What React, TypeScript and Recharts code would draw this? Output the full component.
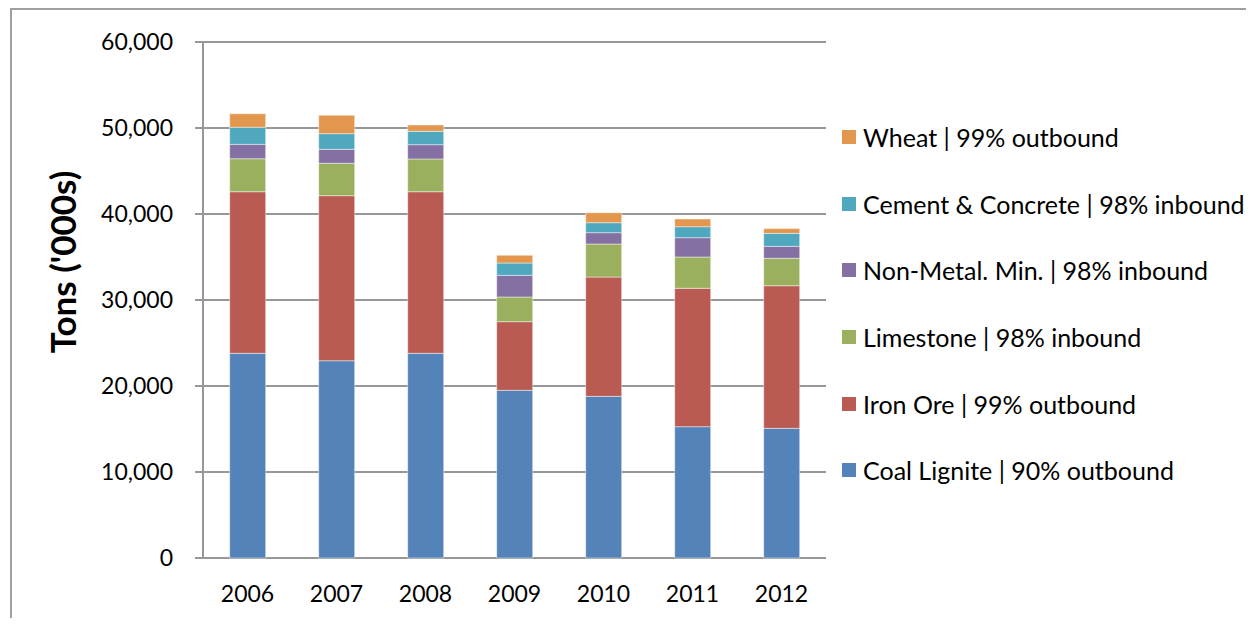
import React from 'react';
import {
  BarChart,
  Bar,
  XAxis,
  YAxis,
  CartesianGrid,
  Legend,
} from 'recharts';

const years = ['2006', '2007', '2008', '2009', '2010', '2011', '2012'];
const coalLignite = [23800, 22940, 23800, 19500, 18800, 15270, 15080];
const ironOre = [18790, 19190, 18790, 7980, 13870, 16090, 16580];
const limestone = [3840, 3770, 3810, 2870, 3840, 3640, 3190];
const nonMetalMin = [1670, 1620, 1660, 2520, 1320, 2245, 1390];
const cementConcrete = [1980, 1820, 1555, 1430, 1160, 1275, 1510];
const wheat = [1580, 2130, 735, 900, 1160, 900, 550];
const yTicks = [0, 10000, 20000, 30000, 40000, 50000, 60000];
const edgeTicks = [0, 1, 2, 3, 4, 5, 6, 7];

const series = [
  { key: 'coal', name: 'Coal Lignite | 90% outbound', color: '#5383b8', values: coalLignite },
  { key: 'iron', name: 'Iron Ore | 99% outbound', color: '#b95b52', values: ironOre },
  { key: 'lime', name: 'Limestone | 98% inbound', color: '#9bb05e', values: limestone },
  { key: 'nonmetal', name: 'Non-Metal. Min. | 98% inbound', color: '#8570a4', values: nonMetalMin },
  { key: 'cement', name: 'Cement & Concrete | 98% inbound', color: '#4fa8bd', values: cementConcrete },
  { key: 'wheat', name: 'Wheat | 99% outbound', color: '#e3974e', values: wheat },
];

const data = years.map((year, i) => {
  const row: Record<string, string | number> = { year };
  series.forEach((s) => {
    row[s.key] = s.values[i];
  });
  return row;
});

const FONT = 'Lato, "Open Sans", sans-serif';
const GRID = '#979797';

// legend reads top-down in reverse stack order, like the stacked bars
function LegendList(props: any) {
  const order = series.map((s) => s.name);
  const items = [...(props.payload || [])].sort(
    (a: any, b: any) => order.indexOf(b.value) - order.indexOf(a.value)
  );
  return (
    <div style={{ fontFamily: FONT, fontSize: 25, color: '#000' }}>
      {items.map((item: any) => (
        <div
          key={item.value}
          style={{ height: 66.6, display: 'flex', alignItems: 'center', whiteSpace: 'nowrap' }}
        >
          <span
            style={{
              display: 'inline-block',
              width: 14,
              height: 14,
              background: item.color,
              marginRight: 7,
            }}
          />
          <span>{item.value}</span>
        </div>
      ))}
    </div>
  );
}

export default function App() {
  return (
    <div style={{ position: 'relative', margin: -8, width: 1254, height: 626, background: '#fff', overflow: 'hidden' }}>
      <div
        style={{
          position: 'absolute',
          left: 10,
          top: 8,
          width: 1260,
          height: 640,
          borderLeft: '2px solid #a0a0a0',
          borderTop: '2px solid #a0a0a0',
        }}
      />
      <div style={{ position: 'absolute', left: 0, top: 0 }}>
        <BarChart
          width={1254}
          height={626}
          data={data}
          margin={{ top: 42, right: 428, left: 0, bottom: 0 }}
          barCategoryGap="30%"
        >
          <CartesianGrid vertical={false} stroke={GRID} strokeWidth={2} />
          <XAxis
            xAxisId="edge"
            type="number"
            domain={[0, 7]}
            ticks={edgeTicks}
            allowDataOverflow
            height={0}
            tickSize={8}
            tick={{ fontSize: 0 }}
            tickFormatter={() => ''}
            stroke={GRID}
            strokeWidth={2}
          />
          <XAxis
            xAxisId="cat"
            dataKey="year"
            height={68}
            axisLine={false}
            tickLine={false}
            tickSize={0}
            tickMargin={28}
            tick={{ fill: '#000', fontSize: 23, fontFamily: FONT }}
          />
          <YAxis
            width={203}
            domain={[0, 60000]}
            ticks={yTicks}
            tickSize={8}
            tickMargin={22}
            stroke={GRID}
            strokeWidth={2}
            tick={{ fill: '#000', fontSize: 23, fontFamily: FONT }}
            tickFormatter={(v: number) => v.toLocaleString('en-US')}
            label={{
              content: () => (
                <text
                  x={62}
                  y={262}
                  transform="rotate(-90 62 262)"
                  textAnchor="middle"
                  dominantBaseline="central"
                  fontFamily={FONT}
                  fontWeight={700}
                  fontSize={35}
                  fill="#000"
                >
                  Tons ('000s)
                </text>
              ),
            }}
          />
          <Legend
            layout="horizontal"
            verticalAlign="middle"
            align="center"
            wrapperStyle={{ left: 842, top: 104, width: 412 }}
            content={<LegendList />}
          />
          {series.map((s) => (
            <Bar
              key={s.key}
              xAxisId="cat"
              dataKey={s.key}
              name={s.name}
              stackId="a"
              fill={s.color}
              stroke="#ffffff"
              strokeOpacity={0.45}
              strokeWidth={1}
              isAnimationActive={false}
            />
          ))}
        </BarChart>
      </div>
    </div>
  );
}
